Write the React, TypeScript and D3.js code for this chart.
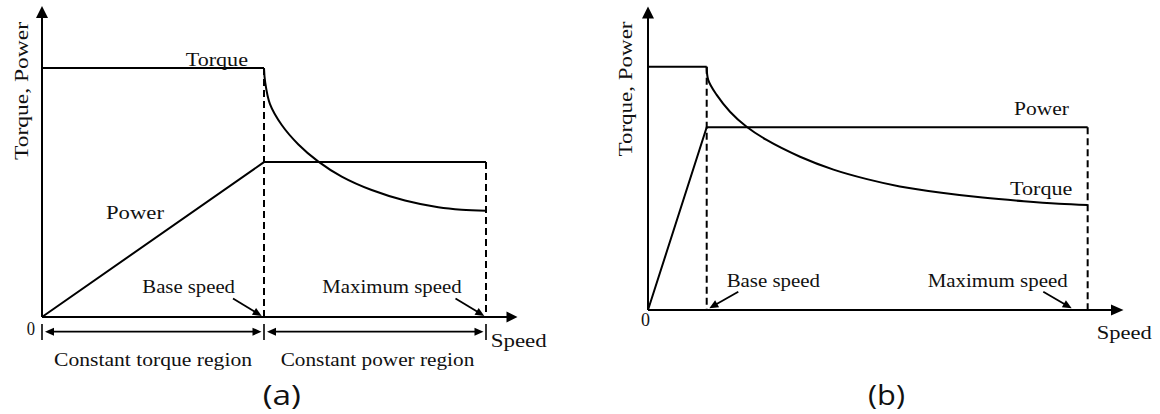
import React from 'react';
import * as d3 from 'd3';

// ---------- DATA (per-unit: speed / base speed, value / rated torque) ----------
// Panel (a)
const powerSpeedA = [0, 1, 2];
const powerA = [0, 0.622, 0.622];
const torqueFlatSpeedA = [0, 1];
const torqueFlatA = [1, 1];
const torqueCurveSpeedA = [1.0, 1.005, 1.027, 1.08, 1.155, 1.245, 1.35, 1.485, 1.635, 1.785, 1.89, 2.0];
const torqueCurveA = [1.0, 0.945, 0.855, 0.771, 0.693, 0.624, 0.564, 0.51, 0.468, 0.441, 0.431, 0.427];
const markerSpeedA = [1, 2]; // base speed, maximum speed

// Panel (b)
const powerSpeedB = [0, 1, 7.49];
const powerB = [0, 0.751, 0.751];
const torqueFlatSpeedB = [0, 1];
const torqueFlatB = [1, 1];
const torqueCurveSpeedB = [1.0, 1.027, 1.17, 1.397, 1.68, 2.02, 2.59, 3.16, 3.73, 4.29, 5.0, 5.7, 6.4, 7.0, 7.49];
const torqueCurveB = [1.0, 0.945, 0.884, 0.815, 0.753, 0.699, 0.63, 0.577, 0.538, 0.508, 0.482, 0.462, 0.447, 0.437, 0.432];
const markerSpeedB = [1, 7.49];

// Text
const yTitle = 'Torque, Power';
const xTitle = 'Speed';
const seriesNames = ['Torque', 'Power'];
const markerNames = ['Base speed', 'Maximum speed'];
const regionNames = ['Constant torque region', 'Constant power region'];
const panelNames = ['(a)', '(b)'];
const originLabel = '0';

// ---------- helpers ----------
const SERIF = '"Liberation Serif", serif';
const SANS = '"Open Sans", sans-serif';
const FS = 19.5;

function tri(tx: number, ty: number, ang: number, len: number, hw: number) {
  const c = Math.cos(ang), s = Math.sin(ang);
  const bx = tx - len * c, by = ty - len * s;
  return `M${tx},${ty}L${bx - hw * s},${by + hw * c}L${bx + hw * s},${by - hw * c}Z`;
}

function Arrow({ x1, y1, x2, y2, len = 9, hw = 4, sw = 1.8 }: any) {
  const ang = Math.atan2(y2 - y1, x2 - x1);
  const ex = x2 - (len - 1) * Math.cos(ang), ey = y2 - (len - 1) * Math.sin(ang);
  return (
    <g>
      <line x1={x1} y1={y1} x2={ex} y2={ey} stroke="#000" strokeWidth={sw} />
      <path d={tri(x2, y2, ang, len, hw)} fill="#000" />
    </g>
  );
}

function T({ x, y, w, children, size = FS, family = SERIF, rotate = false, anchor }: any) {
  return (
    <text
      x={x}
      y={y}
      fontFamily={family}
      fontSize={size}
      fill="#111"
      textAnchor={anchor}
      textLength={w}
      lengthAdjust="spacingAndGlyphs"
      transform={rotate ? `rotate(-90 ${x} ${y})` : undefined}
    >
      {children}
    </text>
  );
}

function zip(xs: number[], ys: number[]) {
  return xs.map((x, i) => [x, ys[i]] as [number, number]);
}

function Panel({ L, powerSpeed, power, tfSpeed, tf, tcSpeed, tc, markers, children }: any) {
  const x = d3.scaleLinear().domain([0, 1]).range([L.x0, L.x1]);
  const y = d3.scaleLinear().domain([0, 1]).range([L.y0, L.y1]);
  const straight = d3.line<[number, number]>().x(d => x(d[0])).y(d => y(d[1]));
  const curved = d3
    .line<[number, number]>()
    .x(d => x(d[0]))
    .y(d => y(d[1]))
    .curve(d3.curveCatmullRom.alpha(0.5));
  const baseX = x(markers[0]);
  const maxX = x(markers[1]);
  return (
    <g>
      {/* axes */}
      <line x1={L.x0} y1={L.y0} x2={L.x0} y2={L.yTip + 10} stroke="#000" strokeWidth={2} />
      <path d={tri(L.x0, L.yTip, -Math.PI / 2, 12, 6)} fill="#000" />
      <line x1={L.x0} y1={L.y0} x2={L.xTip - 10} y2={L.y0} stroke="#000" strokeWidth={2} />
      <path d={tri(L.xTip, L.y0, 0, L.xHead, 5.5)} fill="#000" />
      {/* dashed markers */}
      <line x1={baseX} y1={y(tf[1])} x2={baseX} y2={L.y0} stroke="#000" strokeWidth={2} strokeDasharray="7 4" />
      <line x1={maxX} y1={y(power[2])} x2={maxX} y2={L.y0} stroke="#000" strokeWidth={2} strokeDasharray="7 4" />
      {/* torque */}
      <path d={straight(zip(tfSpeed, tf)) || ''} fill="none" stroke="#000" strokeWidth={2} />
      <path d={curved(zip(tcSpeed, tc)) || ''} fill="none" stroke="#000" strokeWidth={2} />
      {/* power */}
      <path d={straight(zip(powerSpeed, power)) || ''} fill="none" stroke="#000" strokeWidth={2} strokeLinejoin="miter" />
      {children}
    </g>
  );
}

export default function App() {
  const LA = { x0: 42, x1: 264, y0: 317, y1: 68, xTip: 517.5, yTip: 6, xHead: 11 };
  const LB = { x0: 648, x1: 706.7, y0: 310, y1: 66.7, xTip: 1123.5, yTip: 6.5, xHead: 12.5 };
  const xA = d3.scaleLinear().domain([0, 1]).range([LA.x0, LA.x1]);
  const xB = d3.scaleLinear().domain([0, 1]).range([LB.x0, LB.x1]);
  const regY = 331.7;
  const ticksA = [0, markerSpeedA[0], markerSpeedA[1]].map(v => xA(v));
  return (
    <svg
      width={1160}
      height={414}
      viewBox="0 0 1160 414"
      style={{ position: 'absolute', left: 0, top: 0, background: '#fff' }}
    >
      <rect width={1160} height={414} fill="#fff" />
      <Panel
        L={LA}
        powerSpeed={powerSpeedA}
        power={powerA}
        tfSpeed={torqueFlatSpeedA}
        tf={torqueFlatA}
        tcSpeed={torqueCurveSpeedA}
        tc={torqueCurveA}
        markers={markerSpeedA}
      >
        <T x={28.3} y={91} w={138} rotate anchor="middle">{yTitle}</T>
        <T x={185.7} y={66} w={62.3}>{seriesNames[0]}</T>
        <T x={106} y={219} w={58}>{seriesNames[1]}</T>
        <T x={142.3} y={293.3} w={92.7}>{markerNames[0]}</T>
        <T x={322.3} y={293.3} w={139.4}>{markerNames[1]}</T>
        <Arrow x1={233} y1={298.5} x2={xA(markerSpeedA[0]) - 2.3} y2={316} />
        <Arrow x1={455.5} y1={298.5} x2={xA(markerSpeedA[1]) - 1.7} y2={316} />
        <T x={26.7} y={335} w={8.3}>{originLabel}</T>
        {/* region dimension arrows */}
        {ticksA.map((tx, i) => (
          <line key={i} x1={tx} y1={324} x2={tx} y2={340} stroke="#000" strokeWidth={1.6} />
        ))}
        {[0, 1].map(i => (
          <g key={i}>
            <line x1={ticksA[i] + 8} y1={regY} x2={ticksA[i + 1] - 8} y2={regY} stroke="#000" strokeWidth={1.8} />
            <path d={tri(ticksA[i] + 3, regY, Math.PI, 9, 4)} fill="#000" />
            <path d={tri(ticksA[i + 1] - 2.5, regY, 0, 9, 4)} fill="#000" />
          </g>
        ))}
        <T x={54} y={366} w={198}>{regionNames[0]}</T>
        <T x={280.7} y={366} w={193.6}>{regionNames[1]}</T>
        <T x={490.7} y={347.3} w={56}>{xTitle}</T>
        <T x={262.7} y={405} w={38.3} size={27} family={SANS}>{panelNames[0]}</T>
      </Panel>

      <Panel
        L={LB}
        powerSpeed={powerSpeedB}
        power={powerB}
        tfSpeed={torqueFlatSpeedB}
        tf={torqueFlatB}
        tcSpeed={torqueCurveSpeedB}
        tc={torqueCurveB}
        markers={markerSpeedB}
      >
        <T x={632} y={89} w={135} rotate anchor="middle">{yTitle}</T>
        <T x={1014} y={115} w={55}>{seriesNames[1]}</T>
        <T x={1010} y={195} w={62.3}>{seriesNames[0]}</T>
        <T x={726.7} y={286.7} w={93.3}>{markerNames[0]}</T>
        <T x={927.7} y={286.7} w={140}>{markerNames[1]}</T>
        <Arrow x1={738.3} y1={291.7} x2={xB(markerSpeedB[0]) + 2.6} y2={308.3} />
        <Arrow x1={1043.3} y1={291.7} x2={xB(markerSpeedB[1]) - 16} y2={308.3} />
        <T x={641} y={326} w={9}>{originLabel}</T>
        <T x={1096.7} y={339} w={55}>{xTitle}</T>
        <T x={868} y={405} w={37} size={27} family={SANS}>{panelNames[1]}</T>
      </Panel>
    </svg>
  );
}
